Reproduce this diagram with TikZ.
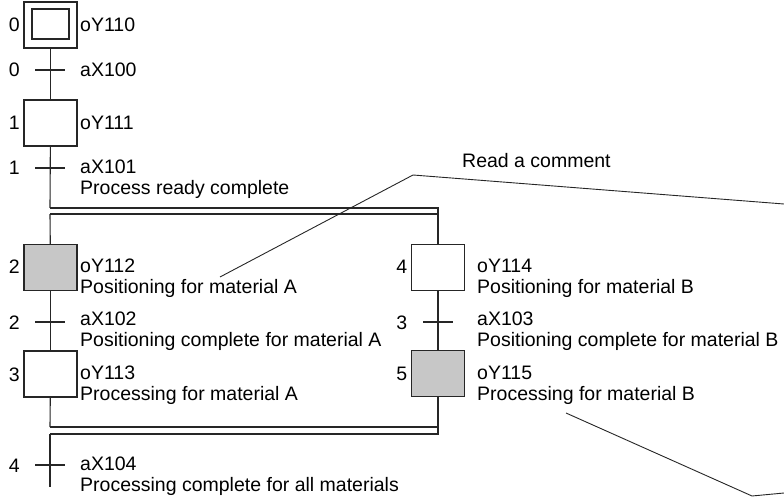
\documentclass[tikz,border=0pt]{standalone}
\usepackage{fontspec}
\setmainfont{Liberation Sans}
\begin{document}
\begin{tikzpicture}[x=1pt,y=-1pt,
  ln/.style={line width=1.1pt,draw=black!85},
  stepbox/.style={ln,minimum width=53pt,minimum height=46pt,inner sep=0pt,fill=white},
  active/.style={stepbox,fill=black!22},
  lbl/.style={anchor=base west,inner sep=0pt,align=left,font=\fontsize{19.5}{21}\selectfont},
  num/.style={anchor=base east,inner sep=0pt,font=\fontsize{19.5}{21}\selectfont},
  lead/.style={line width=0.9pt,draw=black!85}]
\useasboundingbox (0,0) rectangle (784,497);
% steps
\node[stepbox] (s0) at (50.5,25) {};
\node[ln,minimum width=37pt,minimum height=30pt,inner sep=0pt] (s0in) at (50.5,24) {};
\node[stepbox] (s1) at (50.5,123) {};
\node[active] (s2) at (50.5,267.5) {};
\node[stepbox] (s3) at (50.5,374) {};
\node[stepbox] (s4) at (438,267.5) {};
\node[active] (s5) at (438,373.5) {};
% transitions and junctions
\coordinate (t0) at (50,70);
\coordinate (t1) at (50,168);
\coordinate (t2) at (50,322);
\coordinate (t3) at (438,322);
\coordinate (t4) at (50,465);
\coordinate (end) at (50,487);
\coordinate (dtA) at (50,208);
\coordinate (dtB) at (438,208);
\coordinate (dtC) at (50,214);
\coordinate (dtD) at (438,214);
\coordinate (dbA) at (50,427);
\coordinate (dbB) at (438,427);
\coordinate (dbC) at (50,434);
\coordinate (dbD) at (438,434);
% connectors
\draw[ln] (s0) -- (s1);
\draw[ln] (s1) -- (dtA);
\draw[ln] (dtC) -- (s2);
\draw[ln] (s2) -- (s3);
\draw[ln] (s3) -- (dbA);
\draw[ln] (dbC) -- (end);
\draw[ln] (dtD) -- (s4);
\draw[ln] (s4) -- (s5);
\draw[ln] (s5) -- (dbD);
\draw[ln] (dtA) -- (dtB) -- (dtD) -- (dtC);
\draw[ln] (dbA) -- (dbB) -- (dbD) -- (dbC);
% transition ticks
\foreach \t in {t0,t1,t2,t3,t4}
  \draw[ln] ([xshift=-15pt]\t) -- ([xshift=15pt]\t);
% numbers
\node[num] at (20,32) {0};
\node[num] at (20,77) {0};
\node[num] at (20,130) {1};
\node[num] at (20,175) {1};
\node[num] at (20,273) {2};
\node[num] at (20,329) {2};
\node[num] at (20,381) {3};
\node[num] at (20,472) {4};
\node[num] at (407.5,273) {4};
\node[num] at (407.5,329) {3};
\node[num] at (407.5,380) {5};
% texts (multi-line nodes: base = last line)
\node[lbl] (l0) at (80,32) {oY110};
\node[lbl] (l1) at (80,77) {aX100};
\node[lbl] (l2) at (80,130) {oY111};
\node[lbl] (l3) at (80,195) {aX101\\Process ready complete};
\node[lbl] (l4) at (80,293) {oY112\\Positioning for material A};
\node[lbl] (l5) at (80,346) {aX102\\Positioning complete for material A};
\node[lbl] (l6) at (80,400) {oY113\\Processing for material A};
\node[lbl] (l7) at (80,491) {aX104\\Processing complete for all materials};
\node[lbl] (l8) at (477,293) {oY114\\Positioning for material B};
\node[lbl] (l9) at (477,346) {aX103\\Positioning complete for material B};
\node[lbl] (l10) at (477,400) {oY115\\Processing for material B};
\node[lbl] (cm) at (462,168) {Read a comment};
% leaders
\coordinate (k1) at (220,277);
\coordinate (k2) at (413,175);
\coordinate (k3) at (784,204);
\coordinate (k4) at (566,413);
\coordinate (k5) at (752,496);
\coordinate (k6) at (784,493);
\draw[lead] (k1) -- (k2) -- (k3);
\draw[lead] (k4) -- (k5) -- (k6);
\end{tikzpicture}
\end{document}
